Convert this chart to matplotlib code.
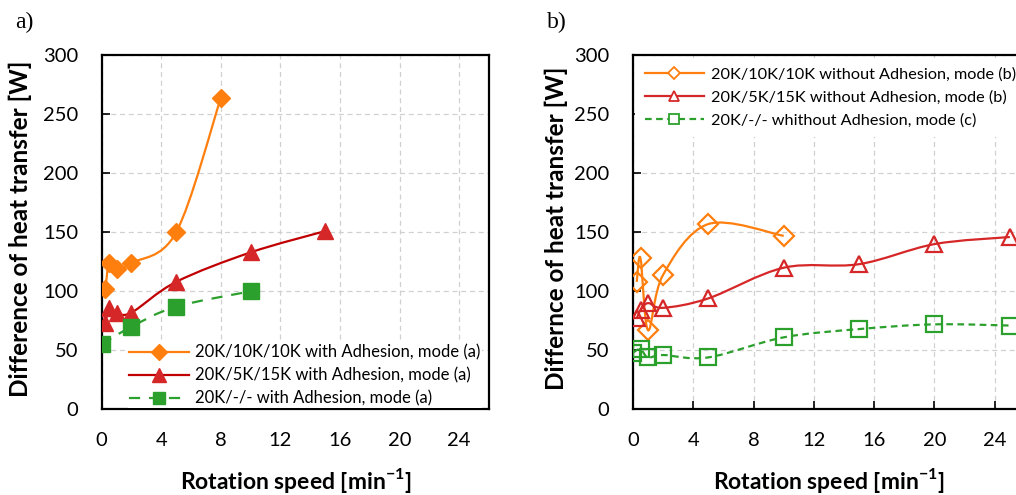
import matplotlib
matplotlib.use("Agg")
import matplotlib.pyplot as plt
from matplotlib.path import Path
from matplotlib.patches import PathPatch
from matplotlib.lines import Line2D

plt.rcParams['font.family'] = ['Lato', 'DejaVu Sans']
plt.rcParams['mathtext.fontset'] = 'custom'
plt.rcParams['mathtext.rm'] = 'Lato'
plt.rcParams['mathtext.bf'] = 'Lato:bold'
plt.rcParams['xtick.direction'] = 'in'
plt.rcParams['ytick.direction'] = 'in'
plt.rcParams['xtick.major.pad'] = 16
plt.rcParams['ytick.major.pad'] = 17

# (a) with adhesion, mode (a)
a_x_10 = [0.25, 0.5, 1, 2, 5, 8]
a_y_10 = [102, 124, 119, 124, 150, 264]
a_x_5 = [0.25, 0.5, 1, 2, 5, 10, 15]
a_y_5 = [73, 86, 82, 82, 108, 133, 151]
a_x_0 = [0, 2, 5, 10]
a_y_0 = [55, 70, 87, 100]

# (b) without adhesion
b_x_10 = [0.25, 0.5, 1, 2, 5, 10]
b_y_10 = [108, 128, 67, 114, 157, 147]
b_x_5 = [0.25, 0.5, 1, 2, 5, 10, 15, 20, 25]
b_y_5 = [77, 84, 90, 86, 94, 120, 123, 140, 146]
b_x_0 = [0, 0.5, 1, 2, 5, 10, 15, 20, 25]
b_y_0 = [48, 51, 44, 46, 44, 61, 68, 72, 71]

ORANGE = '#FF7F0E'
RED = '#D62728'
DARKRED = '#C00000'
GREEN = '#2CA02C'


def smooth_path(xs, ys):
    # spreadsheet-style smoothed line: cubic Bezier through every point
    pts = list(zip(xs, ys))
    n = len(pts)
    verts = [pts[0]]
    codes = [Path.MOVETO]
    for i in range(n - 1):
        p0 = pts[max(i - 1, 0)]
        p1 = pts[i]
        p2 = pts[i + 1]
        p3 = pts[min(i + 2, n - 1)]
        c1 = (p1[0] + (p2[0] - p0[0]) / 6, p1[1] + (p2[1] - p0[1]) / 6)
        c2 = (p2[0] - (p3[0] - p1[0]) / 6, p2[1] - (p3[1] - p1[1]) / 6)
        verts += [c1, c2, p2]
        codes += [Path.CURVE4] * 3
    return Path(verts, codes)


def draw_series(ax, xs, ys, lc, mc, marker, ms, filled, ls='-'):
    patch = PathPatch(smooth_path(xs, ys), fill=False, edgecolor=lc,
                      linewidth=1.6, linestyle=ls, zorder=3)
    ax.add_patch(patch)
    ax.plot(xs, ys, linestyle='none', marker=marker, markersize=ms,
            markerfacecolor=mc if filled else 'none', markeredgecolor=mc,
            markeredgewidth=1.0 if filled else 1.6, zorder=4)


def style_axes(ax, ylabel):
    ax.set_xlim(0, 26)
    ax.set_ylim(0, 300)
    ax.set_xticks(range(0, 25, 4))
    ax.set_yticks(range(0, 301, 50))
    ax.grid(True, color='#d0d0d0', linestyle=(0, (4, 3)), linewidth=0.9)
    ax.set_axisbelow(True)
    for s in ax.spines.values():
        s.set_linewidth(1.6)
        s.set_color('black')
    ax.tick_params(length=6, width=1.2, labelsize=14.5)
    ax.set_xlabel('Rotation speed [min$^{\\mathbf{-1}}$]', fontsize=16.5,
                  fontweight='bold', va='center')
    ax.set_ylabel(ylabel, fontsize=17.5, fontweight='bold', va='center')


fig = plt.figure(figsize=(10.16, 4.95), dpi=100)
ax1 = fig.add_axes([0.1001, 0.1731, 0.3812, 0.7152])
ax2 = fig.add_axes([0.6230, 0.1731, 0.3858, 0.7152])

# a) filled markers
draw_series(ax1, a_x_10, a_y_10, ORANGE, ORANGE, 'D', 9, True)
draw_series(ax1, a_x_5, a_y_5, DARKRED, RED, '^', 11, True)
draw_series(ax1, a_x_0, a_y_0, GREEN, GREEN, 's', 11, True, ls=(0, (5, 4)))
style_axes(ax1, 'Difference of heat transfer [W]')
ax1.xaxis.set_label_coords(0.5, -0.2)
ax1.yaxis.set_label_coords(-0.211, 0.51)

h1 = [
    Line2D([], [], color=ORANGE, lw=1.6, marker='D', ms=8, mfc=ORANGE, mec=ORANGE),
    Line2D([], [], color=DARKRED, lw=1.6, marker='^', ms=10, mfc=RED, mec=RED),
    Line2D([], [], color=GREEN, lw=1.6, ls=(0, (5, 4)), marker='s', ms=9, mfc=GREEN, mec=GREEN),
]
ax1.legend(h1, ['20K/10K/10K with Adhesion, mode (a)',
                '20K/5K/15K with Adhesion, mode (a)',
                '20K/-/- with Adhesion, mode (a)'],
           loc='lower right', bbox_to_anchor=(0.985, 0.0), frameon=True,
           facecolor='white', edgecolor='none', framealpha=1, fancybox=False,
           fontsize=12, handlelength=3.6, handletextpad=0.35, labelspacing=0.42,
           borderpad=0.1, borderaxespad=0.05)

# b) open markers
draw_series(ax2, b_x_10, b_y_10, ORANGE, ORANGE, 'D', 10, False)
draw_series(ax2, b_x_5, b_y_5, RED, RED, '^', 12, False)
draw_series(ax2, b_x_0, b_y_0, GREEN, GREEN, 's', 12, False, ls=(0, (3, 2)))
style_axes(ax2, 'Differnce of heat transfer [W]')
ax2.xaxis.set_label_coords(0.5, -0.2)
ax2.yaxis.set_label_coords(-0.195, 0.51)

h2 = [
    Line2D([], [], color=ORANGE, lw=1.6, marker='D', ms=6, mfc='white', mec=ORANGE, mew=1.3),
    Line2D([], [], color=RED, lw=1.6, marker='^', ms=7, mfc='white', mec=RED, mew=1.3),
    Line2D([], [], color=GREEN, lw=1.6, ls=(0, (3, 2)), marker='s', ms=7, mfc='white', mec=GREEN, mew=1.3),
]
ax2.legend(h2, ['20K/10K/10K without Adhesion, mode (b)',
                '20K/5K/15K without Adhesion, mode (b)',
                '20K/-/- whithout Adhesion, mode (c)'],
           loc='upper left', bbox_to_anchor=(0.0, 1.0), frameon=True,
           facecolor='white', edgecolor='none', framealpha=1, fancybox=False,
           fontsize=11.7, handlelength=3.6, handletextpad=0.45, labelspacing=0.52,
           borderpad=0.6, borderaxespad=0.15)

fig.text(15 / 1016, 1 - 22 / 495, 'a)', family='Liberation Serif', fontsize=17,
         va='center', ha='left')
fig.text(547 / 1016, 1 - 22 / 495, 'b)', family='Liberation Serif', fontsize=17,
         va='center', ha='left')

fig.savefig('out.png', dpi=100)
